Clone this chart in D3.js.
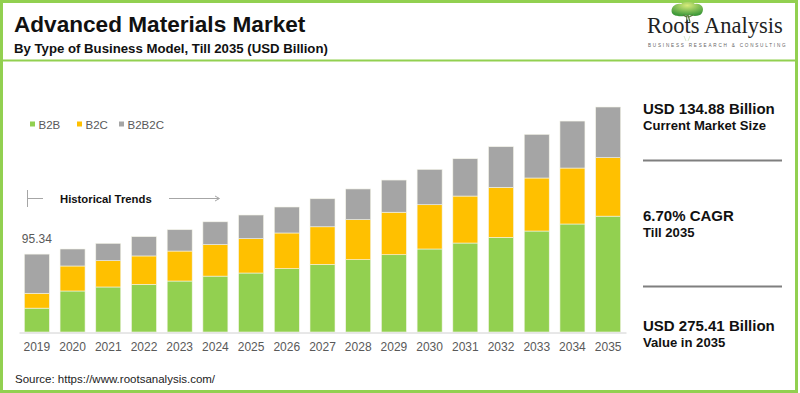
<!DOCTYPE html>
<html lang="en">
<head>
<meta charset="UTF-8">
<title>Advanced Materials Market</title>
<style>
    body { margin: 0; background: #fff; }
    svg { display: block; font-family: Arial, "Liberation Sans", sans-serif; }
</style>
</head>
<body>
<script src="https://cdn.jsdelivr.net/npm/d3@7/dist/d3.min.js"></script>
<script>
    // data (USD billion)
    var years = ["2019","2020","2021","2022","2023","2024","2025","2026","2027",
                 "2028","2029","2030","2031","2032","2033","2034","2035"];
    var b2b   = [29.2, 50.2, 55.1, 58.3, 62.4, 68.4, 72.2, 77.5, 82.7,
                 88.5, 94.6, 101.6, 108.9, 115.8, 123.6, 132.2, 141.8];
    var b2c   = [18.2, 30.6, 32.2, 34.8, 36.7, 38.6, 42.0, 43.7, 46.1,
                 49.0, 52.0, 54.2, 57.5, 61.2, 64.9, 68.5, 71.6];
    var b2b2c = [47.94, 20.8, 21.2, 23.6, 26.1, 27.88, 29.0, 31.8, 34.3,
                 37.6, 39.4, 43.2, 45.7, 49.8, 53.4, 57.5, 62.01];
    var seriesNames = ["B2B", "B2C", "B2B2C"];
    var colors = ["#92d050", "#ffc000", "#a5a5a5"];
    var firstLabel = "95.34";
    var stats = [
        ["USD 134.88 Billion", "Current Market Size"],
        ["6.70% CAGR", "Till 2035"],
        ["USD 275.41 Billion", "Value in 2035"]
    ];

    var w = 800, h = 393;
    var svg = d3.select("body").append("svg").attr("width", w).attr("height", h);

    // frame + header line
    svg.append("rect").attr("x", 1.5).attr("y", 1.5).attr("width", 795).attr("height", 390)
        .attr("fill", "none").attr("stroke", "#92d050").attr("stroke-width", 3);
    svg.append("line").attr("x1", 2).attr("x2", 796).attr("y1", 60.5).attr("y2", 60.5)
        .attr("stroke", "#92d050").attr("stroke-width", 2);

    svg.append("text").attr("x", 14).attr("y", 31.5).text("Advanced Materials Market")
        .attr("font-size", "22.6px").attr("font-weight", "bold").attr("fill", "#111");
    svg.append("text").attr("x", 14).attr("y", 53).text("By Type of Business Model, Till 2035 (USD Billion)")
        .attr("font-size", "13.2px").attr("font-weight", "bold").attr("fill", "#111");

    // logo
    var defs = svg.append("defs");
    var grad = defs.append("radialGradient").attr("id", "tree").attr("cx", "50%").attr("cy", "25%").attr("r", "70%");
    grad.append("stop").attr("offset", "0%").attr("stop-color", "#d8ec7a");
    grad.append("stop").attr("offset", "100%").attr("stop-color", "#3f9a3a");
    var logo = svg.append("g");
    logo.append("path")
        .attr("d", "M672,13 C670,8 675,3 681,4 C684,1 692,1 695,4 C701,3 705,8 702,13 C700,17 692,16 688,15 C683,17 674,17 672,13 Z")
        .attr("fill", "url(#tree)");
    logo.append("path").attr("d", "M687,15 L686.5,22 M688,15 L690,22 M686.5,17 L683,15 M689,17 L693,15")
        .attr("stroke", "#5a7a3a").attr("stroke-width", 1.2).attr("fill", "none");
    logo.append("text").attr("x", 647).attr("y", 33).text("Roots Analysis")
        .attr("font-family", "'Liberation Serif', 'Times New Roman', serif")
        .attr("font-size", "22.5px").attr("fill", "#222");
    logo.append("path").attr("d", "M684,36 L686,41 M690,36 L688,41").attr("stroke", "#cfe3bf").attr("stroke-width", 0.8);
    logo.append("text").attr("x", 648).attr("y", 47).text("BUSINESS RESEARCH & CONSULTING")
        .attr("font-size", "4.6px").attr("letter-spacing", "1.8px").attr("fill", "#666");

    // scales
    var x = d3.scaleBand().domain(years).range([19, 626]).paddingInner(0.3).paddingOuter(0.15);
    var y = d3.scaleLinear().domain([0, 275.41]).range([332, 107]);

    var rows = years.map(function (yr, i) {
        return { year: yr, B2B: b2b[i], B2C: b2c[i], B2B2C: b2b2c[i] };
    });
    var stack = d3.stack().keys(seriesNames)(rows);

    svg.append("g").selectAll("g").data(stack).enter().append("g")
        .attr("fill", function (d, i) { return colors[i]; })
        .selectAll("rect").data(function (d) { return d; }).enter().append("rect")
        .attr("x", function (d) { return x(d.data.year); })
        .attr("y", function (d) { return y(d[1]); })
        .attr("width", x.bandwidth())
        .attr("height", function (d) { return y(d[0]) - y(d[1]); })
        .attr("stroke", "#f4f4e8").attr("stroke-width", 0.6);

    // x axis
    var xAxis = svg.append("g").attr("transform", "translate(0,332.5)")
        .call(d3.axisBottom(x).tickSize(0).tickPadding(10));
    xAxis.select(".domain").attr("stroke", "#d0d0d0");
    xAxis.selectAll("text").attr("font-size", "12px").attr("fill", "#595959")
        .attr("font-family", "Arial, 'Liberation Sans', sans-serif");

    // label on first bar
    svg.append("text").attr("x", x(years[0]) + x.bandwidth() / 2).attr("y", y(rows[0].B2B + rows[0].B2C + rows[0].B2B2C) - 11)
        .attr("text-anchor", "middle").attr("font-size", "12px").attr("fill", "#595959").text(firstLabel);

    // legend
    var legX = [30, 77, 119];
    var leg = svg.append("g").selectAll("g").data(seriesNames).enter().append("g")
        .attr("transform", function (d, i) { return "translate(" + legX[i] + ",0)"; });
    leg.append("rect").attr("x", 0).attr("y", 121.5).attr("width", 5).attr("height", 5)
        .attr("fill", function (d, i) { return colors[i]; });
    leg.append("text").attr("x", 8.5).attr("y", 128.5).text(function (d) { return d; })
        .attr("font-size", "11.5px").attr("fill", "#595959");

    // historical trends marker
    var ht = svg.append("g").attr("stroke", "#a6a6a6").attr("stroke-width", 1);
    ht.append("line").attr("x1", 27.5).attr("x2", 27.5).attr("y1", 190).attr("y2", 207);
    ht.append("line").attr("x1", 27.5).attr("x2", 43).attr("y1", 198.5).attr("y2", 198.5);
    ht.append("line").attr("x1", 169).attr("x2", 219).attr("y1", 198.5).attr("y2", 198.5);
    ht.append("path").attr("d", "M215,196 L219.5,198.5 L215,201").attr("fill", "none");
    svg.append("text").attr("x", 60).attr("y", 202.5).text("Historical Trends")
        .attr("font-size", "11.3px").attr("font-weight", "bold").attr("fill", "#111");

    // right panel
    var statY = [113.5, 220.5, 330.5];
    var panel = svg.append("g").selectAll("g").data(stats).enter().append("g");
    panel.append("text").attr("x", 643).attr("y", function (d, i) { return statY[i]; })
        .text(function (d) { return d[0]; })
        .attr("font-size", "15px").attr("font-weight", "bold").attr("fill", "#111");
    panel.append("text").attr("x", 643).attr("y", function (d, i) { return statY[i] + 16; })
        .text(function (d) { return d[1]; })
        .attr("font-size", "13.1px").attr("font-weight", "bold").attr("fill", "#111");
    svg.selectAll(".sep").data([160.5, 286.5]).enter().append("line").attr("class", "sep")
        .attr("x1", 643).attr("x2", 782).attr("y1", function (d) { return d; }).attr("y2", function (d) { return d; })
        .attr("stroke", "#7f7f7f").attr("stroke-width", 2);

    svg.append("text").attr("x", 15).attr("y", 382.5).text("Source: https://www.rootsanalysis.com/")
        .attr("font-size", "11.5px").attr("fill", "#222");
</script>
</body>
</html>
